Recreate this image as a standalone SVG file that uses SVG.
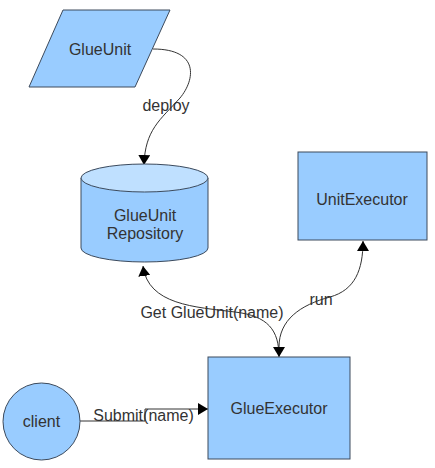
<svg xmlns="http://www.w3.org/2000/svg" width="435" height="468" viewBox="0 0 435 468">
<style>
.shape{fill:#99ccff;stroke:#3c4a5c;stroke-width:1}
.top{fill:#bfe0ff;stroke:#3c4a5c;stroke-width:1}
.lbl{font-family:"Liberation Sans",Arial,sans-serif;font-size:16px;fill:#333333;text-anchor:middle}
.conn{fill:none;stroke:#333333;stroke-width:1}
</style>
<defs>
<marker id="arr" viewBox="0 0 10 12" refX="10" refY="6" markerWidth="10" markerHeight="12" markerUnits="userSpaceOnUse" orient="auto-start-reverse">
<path d="M0,0 L10,6 L0,12 Z" fill="#000"/>
</marker>
</defs>
<rect width="435" height="468" fill="#ffffff"/>
<g id="connectors">
<path class="conn" d="M153,49 C200,49 195,80 180,98 C160,120 145,130 144,165" marker-end="url(#arr)"/>
<path class="conn" d="M279,357 C279,330 268,316 235,312 C195,307 148,305 143,266" marker-start="url(#arr)" marker-end="url(#arr)"/>
<path class="conn" d="M279,347 C279,320 300,305 330,297 C355,290 363,270 363,241" marker-end="url(#arr)"/>
<path class="conn" d="M80,421 L145,421 L145,409 L208,409" marker-end="url(#arr)"/>
<text class="lbl" x="166" y="111">deploy</text>
<text class="lbl" x="212" y="318">Get GlueUnit(name)</text>
<text class="lbl" x="321" y="305">run</text>
<text class="lbl" x="143.5" y="421">Submit(name)</text>
</g>
<g id="glueunit">
<polygon class="shape" points="63,10 170,10 135,87 29,87"/>
<text class="lbl" x="100" y="55">GlueUnit</text>
</g>
<g id="repository">
<path class="shape" d="M81,178 L81,248 A63.5,14 0 0 0 208,248 L208,178 Z"/>
<ellipse class="top" cx="144.5" cy="178" rx="63.5" ry="14"/>
<text class="lbl" x="145" y="221">GlueUnit</text>
<text class="lbl" x="145" y="239">Repository</text>
</g>
<g id="unitexecutor">
<rect class="shape" x="298" y="152" width="129" height="88"/>
<text class="lbl" x="362" y="205">UnitExecutor</text>
</g>
<g id="glueexecutor">
<rect class="shape" x="208" y="357" width="142" height="102"/>
<text class="lbl" x="279" y="414">GlueExecutor</text>
</g>
<g id="client">
<circle class="shape" cx="41.5" cy="421.5" r="38.5"/>
<text class="lbl" x="41.5" y="427">client</text>
</g>
</svg>
